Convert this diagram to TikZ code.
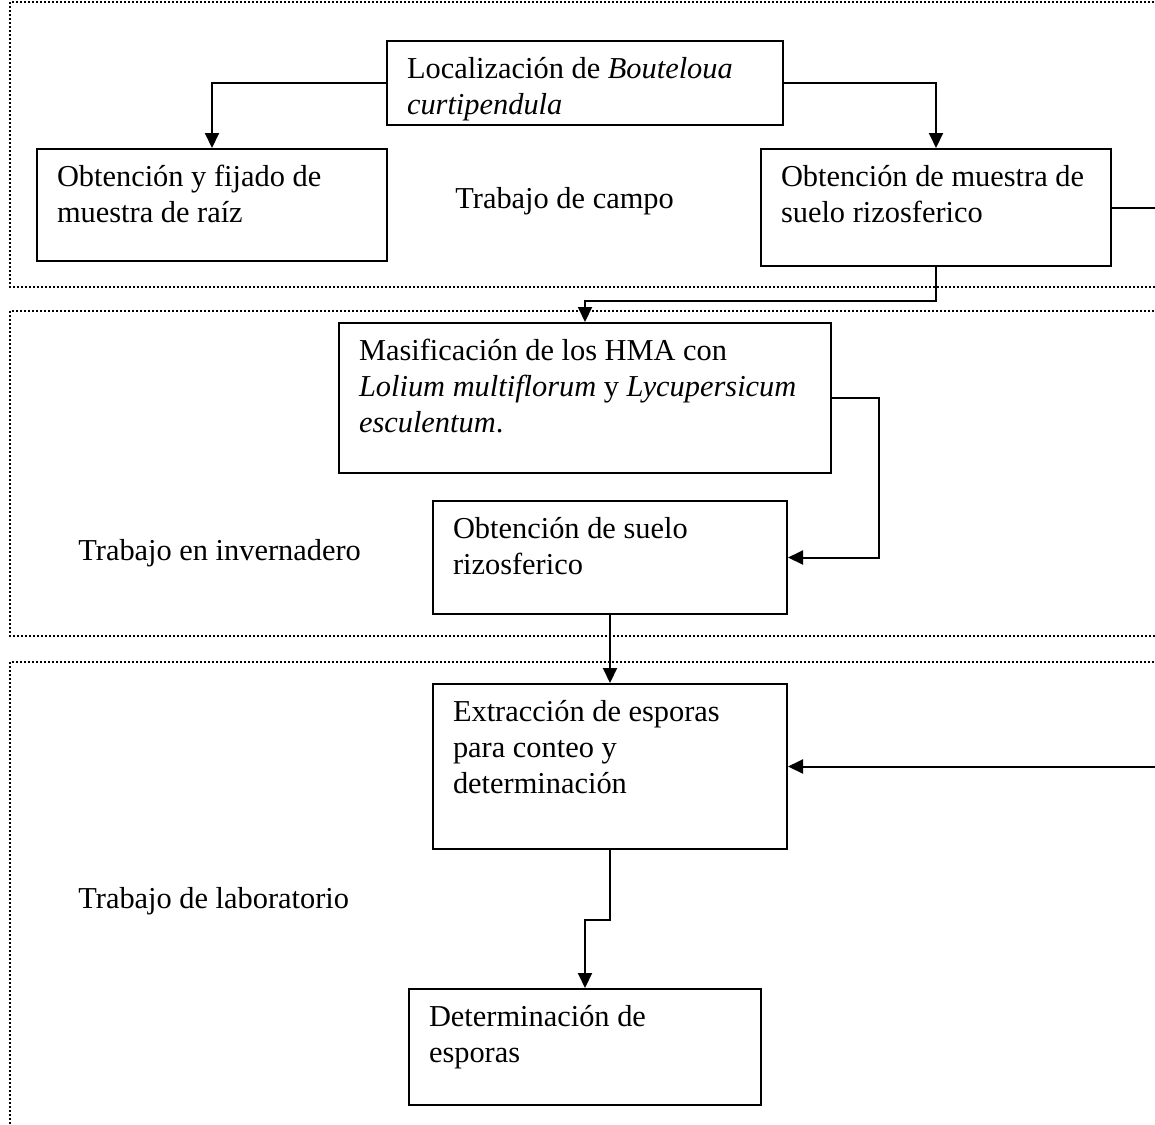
\documentclass[tikz,border=0pt]{standalone}
\usepackage{fontspec}
\setmainfont{Liberation Serif}
\usetikzlibrary{calc,arrows.meta}

% texto de las cajas: ancho, alto, contenido
\newcommand{\cajatexto}[3]{\parbox[c][#2][t]{#1}{\raggedright\strut #3}}

\begin{document}
\begin{tikzpicture}[x=0.5pt,y=-0.5pt,
    caja/.style={draw, line width=1pt, anchor=north west, inner xsep=10pt, inner ysep=6pt},
    flecha/.style={line width=1pt, -{Triangle[length=7.5pt,width=7pt]}},
    zona/.style={line width=1pt, dash pattern=on 1pt off 1pt},
    etiqueta/.style={anchor=base west, inner sep=0pt}]
    \useasboundingbox (0,0) rectangle (1155,1124);
    \clip (0,0) rectangle (1155,1124); % lo que sale por la derecha se corta
    \fontsize{15.2pt}{18pt}\selectfont

    % zonas punteadas
    \draw[zona] (1170,2) -- (10,2) -- (10,287) -- (1170,287);
    \draw[zona] (1170,311) -- (10,311) -- (10,636) -- (1170,636);
    \draw[zona] (1170,662) -- (10,662) -- (10,1140);

    % trabajo de campo
    \node[caja] (loc) at (386,40) {\cajatexto{178pt}{30pt}{Localizaci\'on de \textit{Bouteloua}\\ \textit{curtipendula}}};
    \node[caja] (raiz) at (36,148) {\cajatexto{155pt}{44pt}{Obtenci\'on y fijado de\\ muestra de ra\'iz}};
    \node[caja] (muestra) at (760,148) {\cajatexto{155pt}{46.5pt}{Obtenci\'on de muestra de\\ suelo rizosferico}};
    \node[etiqueta] (campo) at (455,208) {Trabajo de campo};

    % trabajo en invernadero
    \node[caja] (masif) at (338,322) {\cajatexto{226pt}{63pt}{Masificaci\'on de los HMA con\\ \textit{Lolium multiflorum} y \textit{Lycupersicum}\\ \textit{esculentum}.}};
    \node[caja] (suelo) at (432,500) {\cajatexto{157pt}{44.5pt}{Obtenci\'on de suelo\\ rizosferico}};
    \node[etiqueta] (inver) at (78,560) {Trabajo en invernadero};

    % trabajo de laboratorio
    \node[caja] (extr) at (432,683) {\cajatexto{157pt}{70.5pt}{Extracci\'on de esporas\\ para conteo y\\ determinaci\'on}};
    \node[caja] (det) at (408,988) {\cajatexto{156pt}{46pt}{Determinaci\'on de\\ esporas}};
    \node[etiqueta] (lab) at (78,908) {Trabajo de laboratorio};

    \coordinate (borde) at (1175,500);

    % conexiones
    \draw[flecha] (loc.west) -| (raiz.north);
    \draw[flecha] (loc.east) -| (muestra.north);
    \draw[flecha] (muestra.south) -- ($(muestra.south)+(0,34)$) -| (masif.north);
    \draw[flecha] (muestra.east) -| (borde) |- (extr.east);
    \draw[flecha] (masif.east) -- ($(masif.east)+(47,0)$) |- (suelo.east);
    \draw[flecha] (suelo.south) -- (extr.north);
    \draw[flecha] (extr.south) -- ($(extr.south)+(0,70)$) -| (det.north);
\end{tikzpicture}
\end{document}
